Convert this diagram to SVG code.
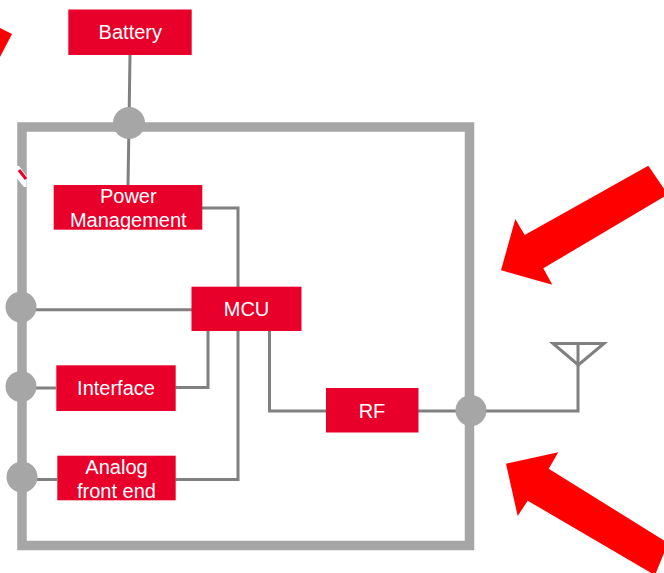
<svg xmlns="http://www.w3.org/2000/svg" width="664" height="573" viewBox="0 0 664 573">
<style>
.frame{fill:none;stroke:#a6a6a6;stroke-width:9.5}
.wire{fill:none;stroke:#808080;stroke-width:3}
.box{fill:#e8002a}
.dot{fill:#a6a6a6}
.arrow{fill:#ff0000}
text{font-family:"Liberation Sans",Arial,sans-serif;font-size:20px;fill:#fff;text-anchor:middle}
</style>
<rect width="664" height="573" fill="#fff"/>
<g id="decor">
<polygon class="arrow" points="501,270.3 515.3,219 524.7,235 648.3,165.7 668,194.5 543.3,268.3 552.3,284.7"/>
<polygon class="arrow" points="506,463.7 558.3,452.3 548.7,468.7 668,543 655,575.2 527.7,500.7 517.7,516"/>
<polygon class="arrow" points="0,28 12,34 0,57"/>
</g>
<rect id="frame" class="frame" x="22" y="127" width="447.5" height="418.5"/>
<path d="M16.5 166H19L26.5 176V187H24L16.5 178Z" fill="#fff"/>
<path d="M19 170L26 179" stroke="#e8002a" stroke-width="3" fill="none"/>
<g id="connectors">
<path class="wire" d="M130 55L129 123L128 185"/>
<path class="wire" d="M202 208H238V287"/>
<path class="wire" d="M30 309.7H192"/>
<path class="wire" d="M30 388H56"/>
<path class="wire" d="M175.5 387.5H208V331"/>
<path class="wire" d="M30 479.5H57"/>
<path class="wire" d="M175.5 479.5H238V331"/>
<path class="wire" d="M269.5 331V411H326"/>
<path class="wire" d="M418 411H578V345"/>
<path class="wire" d="M553 343.5H604L578.3 365Z"/>
</g>
<g id="port-battery"><circle class="dot" cx="129" cy="123" r="16"/></g>
<g id="port-mcu"><circle class="dot" cx="21" cy="307" r="15.5"/></g>
<g id="port-interface"><circle class="dot" cx="21" cy="386.5" r="15.5"/></g>
<g id="port-analog"><circle class="dot" cx="22" cy="477" r="15.5"/></g>
<g id="port-rf"><circle class="dot" cx="471" cy="410.5" r="15.5"/></g>
<g id="battery"><rect class="box" x="68.3" y="9.5" width="123.4" height="45.5"/><text x="130.3" y="39">Battery</text></g>
<g id="power"><rect class="box" x="53.7" y="185" width="148.6" height="44.7"/><text x="128.3" y="202.7">Power</text><text x="128.3" y="227">Management</text></g>
<g id="mcu"><rect class="box" x="191.5" y="286.7" width="110" height="44.3"/><text x="246.5" y="316">MCU</text></g>
<g id="interface"><rect class="box" x="56.3" y="365.3" width="119.4" height="45.7"/><text x="116" y="395">Interface</text></g>
<g id="analog"><rect class="box" x="57.3" y="455.7" width="118.4" height="44.6"/><text x="116.5" y="474">Analog</text><text x="116.5" y="498.3">front end</text></g>
<g id="rf"><rect class="box" x="326" y="388" width="92.5" height="44.5"/><text x="372" y="418">RF</text></g>
</svg>
